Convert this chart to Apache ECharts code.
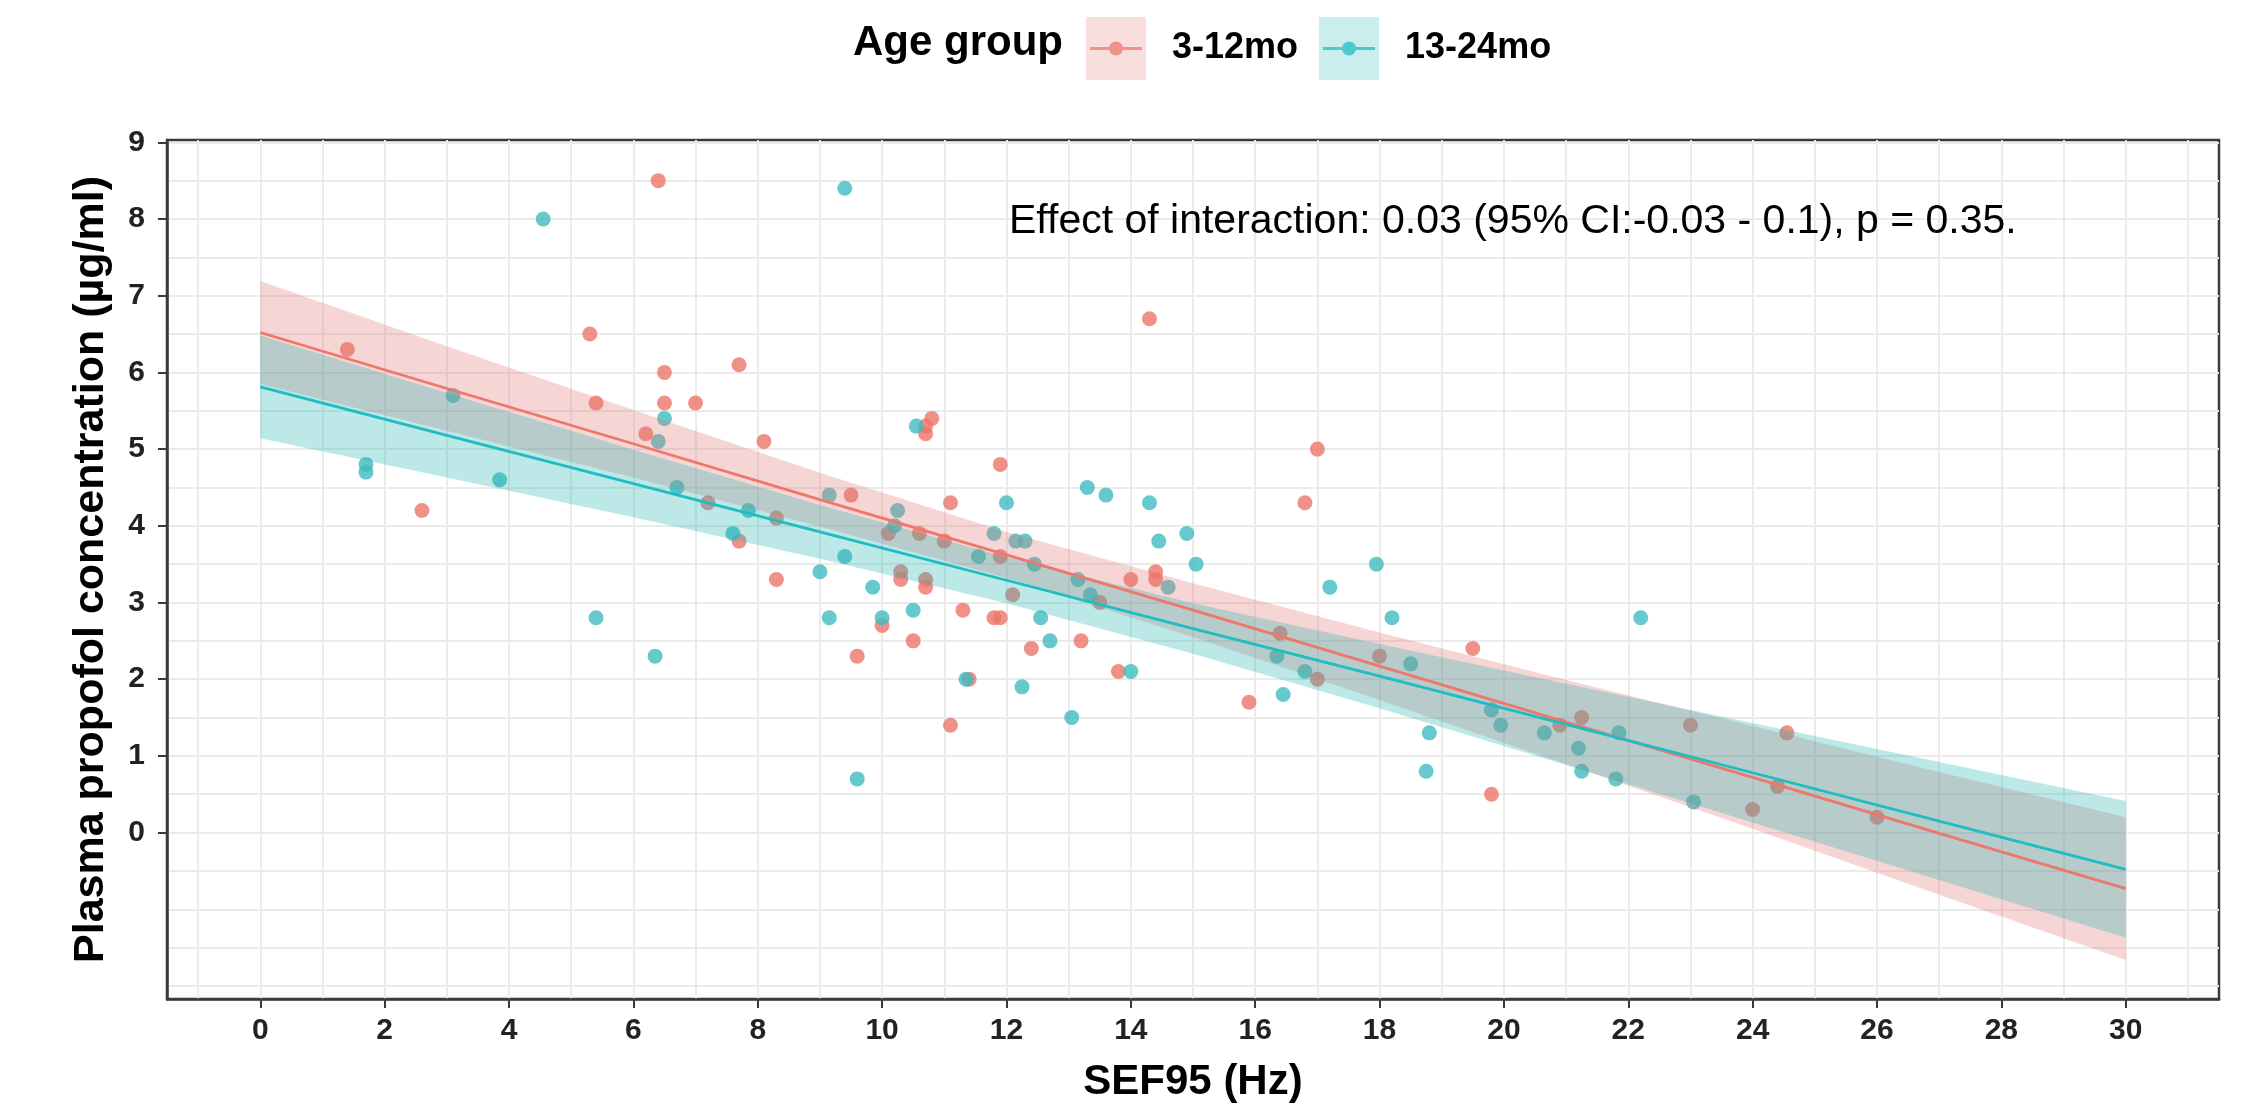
<!DOCTYPE html>
<html>
<head>
<meta charset="utf-8">
<script src="https://cdn.jsdelivr.net/npm/echarts@6/dist/echarts.min.js"></script>
<style>
html,body{margin:0;padding:0;background:#fff;}
#chart{width:2241px;height:1108px;}
</style>
</head>
<body>
<div id="chart"></div>
<script>
// ---- Data ----
const groupNames = ['3-12mo', '13-24mo'];

// 3-12mo points (SEF95 Hz, concentration µg/ml)
const youngX = [1.4,2.6,5.3,5.4,6.2,6.4,6.5,6.5,7.0,7.2,7.7,7.7,8.1,8.3,8.3,9.5,9.6,10.0,10.1,10.3,10.3,10.5,10.6,10.7,10.7,10.8,10.7,10.7,11.0,11.1,11.1,11.3,11.4,11.8,11.9,11.9,11.9,12.1,12.4,13.2,13.5,13.8,14.0,14.3,14.4,14.4,15.9,16.4,16.8,17.0,17.0,18.0,19.5,19.8,20.9,21.25,23.0,24.0,24.4,24.55,26.0];
const youngY = [6.3,4.2,6.5,5.6,5.2,8.5,6.0,5.6,5.6,4.3,6.1,3.8,5.1,4.1,3.3,4.4,2.3,2.7,3.9,3.4,3.3,2.5,3.9,5.2,5.3,5.4,3.3,3.2,3.8,4.3,1.4,2.9,2.0,2.8,2.8,4.8,3.6,3.1,2.4,2.5,3.0,2.1,3.3,6.7,3.4,3.3,1.7,2.6,4.3,5.0,2.0,2.3,2.4,0.5,1.4,1.5,1.4,0.3,0.6,1.3,0.2];

// 13-24mo points
const olderX = [1.7,1.7,3.1,3.85,4.55,5.4,6.35,6.4,6.5,6.7,7.6,7.85,9.0,9.15,9.15,9.4,9.4,9.6,9.85,10.0,10.2,10.25,10.5,10.55,11.35,11.55,11.8,12.0,12.15,12.3,12.25,12.45,12.55,12.7,13.05,13.15,13.3,13.35,13.6,14.0,14.3,14.45,14.6,14.9,15.05,16.35,16.45,16.8,17.2,17.95,18.2,18.5,18.8,18.75,19.8,19.95,20.65,21.2,21.25,21.85,21.8,22.2,23.05];
const olderY = [4.8,4.7,5.7,4.6,8.0,2.8,2.3,5.1,5.4,4.5,3.9,4.2,3.4,4.4,2.8,3.6,8.4,0.7,3.2,2.8,4.0,4.2,2.9,5.3,2.0,3.6,3.9,4.3,3.8,3.8,1.9,3.5,2.8,2.5,1.5,3.3,4.5,3.1,4.4,2.1,4.3,3.8,3.2,3.9,3.5,2.3,1.8,2.1,3.2,3.5,2.8,2.2,1.3,0.8,1.6,1.4,1.3,1.1,0.8,1.3,0.7,2.8,0.4];

// fitted lines and 95% bands read at these SEF95 values
const fitX = [0,3,6,9,12,15,18,21,24,27,30];
const youngFit   = [6.52,5.79,5.07,4.34,3.62,2.90,2.17,1.44,0.72,-0.01,-0.73];
const youngUpper = [7.19,6.34,5.51,4.69,3.92,3.25,2.61,1.99,1.39,0.79,0.20];
const youngLower = [5.85,5.24,4.63,3.99,3.32,2.55,1.73,0.89,0.05,-0.81,-1.66];
const olderFit   = [5.81,5.18,4.55,3.92,3.29,2.66,2.04,1.41,0.78,0.15,-0.48];
const olderUpper = [6.48,5.73,4.99,4.27,3.59,2.99,2.46,1.94,1.43,0.92,0.41];
const olderLower = [5.14,4.63,4.11,3.57,2.99,2.33,1.62,0.88,0.13,-0.62,-1.37];

// axis ticks
const xTicks = [0,2,4,6,8,10,12,14,16,18,20,22,24,26,28,30];
const xGrid = [-1,0,1,2,3,4,5,6,7,8,9,10,11,12,13,14,15,16,17,18,19,20,21,22,23,24,25,26,27,28,29,30,31];
const yTicks = [0,1,2,3,4,5,6,7,8,9];
const yGrid = [-2,-1.5,-1,-0.5,0,0.5,1,1.5,2,2.5,3,3.5,4,4.5,5,5.5,6,6.5,7,7.5,8,8.5,9];

const annotation = 'Effect of interaction: 0.03 (95% CI:-0.03 - 0.1), p = 0.35.';

// ---- styling ----
const FONT = '"Liberation Sans", Arial, Helvetica, sans-serif';
const RED = '#EE776C', TEAL = '#1FBDC2';
const RED_PT = '#EC7669', TEAL_PT = '#3FBCC1';
const RED_FILL = 'rgba(225,118,112,0.30)', TEAL_FILL = 'rgba(32,180,180,0.30)';

function keyIcon(fill, col) {
  const svg = '<svg xmlns="http://www.w3.org/2000/svg" width="60" height="63" viewBox="0 0 60 63">' +
    '<rect x="0" y="0" width="60" height="63" fill="' + fill + '"/>' +
    '<line x1="4" y1="31.5" x2="56" y2="31.5" stroke="' + col + '" stroke-width="3"/>' +
    '<circle cx="30" cy="31.5" r="7" fill="' + col + '"/></svg>';
  return 'image://data:image/svg+xml;charset=utf-8,' + encodeURIComponent(svg);
}

const zip = (a, b) => a.map((v, i) => [v, b[i]]);

// band drawn as a polygon through the axes' scales
function bandSeries(name, xs, upper, lower, fill) {
  return {
    name: name, type: 'custom', xAxisIndex: 0, yAxisIndex: 0, silent: true, z: 3,
    clip: true,
    data: [[xs[0], upper[0]]],
    renderItem: function (params, api) {
      const pts = [];
      for (let i = 0; i < xs.length; i++) pts.push(api.coord([xs[i], upper[i]]));
      for (let i = xs.length - 1; i >= 0; i--) pts.push(api.coord([xs[i], lower[i]]));
      return {type: 'polygon', shape: {points: pts}, style: {fill: fill, stroke: null}};
    }
  };
}

const chart = echarts.init(document.getElementById('chart'), null, {renderer: 'canvas'});

const option = {
  animation: false,
  backgroundColor: '#ffffff',
  title: [
    {text: 'Age group', left: 853, top: 22, padding: 0,
     textStyle: {fontFamily: FONT, fontSize: 42, fontWeight: 'bold', color: '#000'}},
    {text: annotation, left: 1009, top: 201, padding: 0,
     textStyle: {fontFamily: FONT, fontSize: 41, fontWeight: 'normal', color: '#000'}}
  ],
  legend: {
    left: 1081, top: 12, orient: 'horizontal',
    itemWidth: 60, itemHeight: 63, itemGap: 21,
    selectedMode: false,
    textStyle: {fontFamily: FONT, fontSize: 36, fontWeight: 'bold', color: '#000', padding: [0, 0, 0, 21]},
    data: [
      {name: groupNames[0], icon: keyIcon(RED_FILL, RED)},
      {name: groupNames[1], icon: keyIcon(TEAL_FILL, TEAL)}
    ]
  },
  grid: {left: 167, right: 22, top: 140, bottom: 101, show: true,
         borderColor: '#3a3a3a', borderWidth: 2.5, backgroundColor: 'transparent'},
  xAxis: [
    {type: 'value', min: -1.5, max: 31.5, gridIndex: 0,
     name: 'SEF95 (Hz)', nameLocation: 'middle', nameGap: 62,
     nameTextStyle: {fontFamily: FONT, fontSize: 42, fontWeight: 'bold', color: '#000'},
     axisLine: {show: true, onZero: false, lineStyle: {color: '#3a3a3a', width: 2.5}},
     axisTick: {show: true, length: 9, customValues: xTicks, lineStyle: {color: '#3a3a3a', width: 2}},
     axisLabel: {show: true, customValues: xTicks, margin: 17,
                 fontFamily: FONT, fontSize: 30, fontWeight: 'bold', color: '#222'},
     splitLine: {show: false}},
    {type: 'value', min: -1.5, max: 31.5, gridIndex: 0, position: 'top',
     axisLine: {show: false}, axisLabel: {show: false},
     axisTick: {show: false, customValues: xGrid},
     splitLine: {show: true, lineStyle: {color: '#EBEBEB', width: 2}}}
  ],
  yAxis: [
    {type: 'value', min: -2.17, max: 9.03, gridIndex: 0,
     name: 'Plasma propofol concentration (µg/ml)', nameLocation: 'middle', nameGap: 54,
     nameTextStyle: {fontFamily: FONT, fontSize: 43, fontWeight: 'bold', color: '#000'},
     axisLine: {show: true, onZero: false, lineStyle: {color: '#3a3a3a', width: 2.5}},
     axisTick: {show: true, length: 9, customValues: yTicks, lineStyle: {color: '#3a3a3a', width: 2}},
     axisLabel: {show: true, customValues: yTicks, margin: 22,
                 fontFamily: FONT, fontSize: 30, fontWeight: 'bold', color: '#222'},
     splitLine: {show: false}},
    {type: 'value', min: -2.17, max: 9.03, gridIndex: 0, position: 'right',
     axisLine: {show: false}, axisLabel: {show: false},
     axisTick: {show: false, customValues: yGrid},
     splitLine: {show: true, lineStyle: {color: '#EBEBEB', width: 2}}}
  ],
  series: [
    {name: groupNames[0], type: 'scatter', xAxisIndex: 0, yAxisIndex: 0,
     symbol: 'circle', symbolSize: 15, itemStyle: {color: RED_PT},
     data: zip(youngX, youngY), z: 2},
    {name: groupNames[1], type: 'scatter', xAxisIndex: 0, yAxisIndex: 0,
     symbol: 'circle', symbolSize: 15, itemStyle: {color: TEAL_PT},
     data: zip(olderX, olderY), z: 2},
    bandSeries('youngBand', fitX, youngUpper, youngLower, RED_FILL),
    {name: 'youngFit', type: 'line', xAxisIndex: 0, yAxisIndex: 0, symbol: 'none', silent: true,
     lineStyle: {color: RED, width: 2.8}, data: zip(fitX, youngFit), z: 3},
    bandSeries('olderBand', fitX, olderUpper, olderLower, TEAL_FILL),
    {name: 'olderFit', type: 'line', xAxisIndex: 0, yAxisIndex: 0, symbol: 'none', silent: true,
     lineStyle: {color: TEAL, width: 2.8}, data: zip(fitX, olderFit), z: 3}
  ]
};
chart.setOption(option);
</script>
</body>
</html>
